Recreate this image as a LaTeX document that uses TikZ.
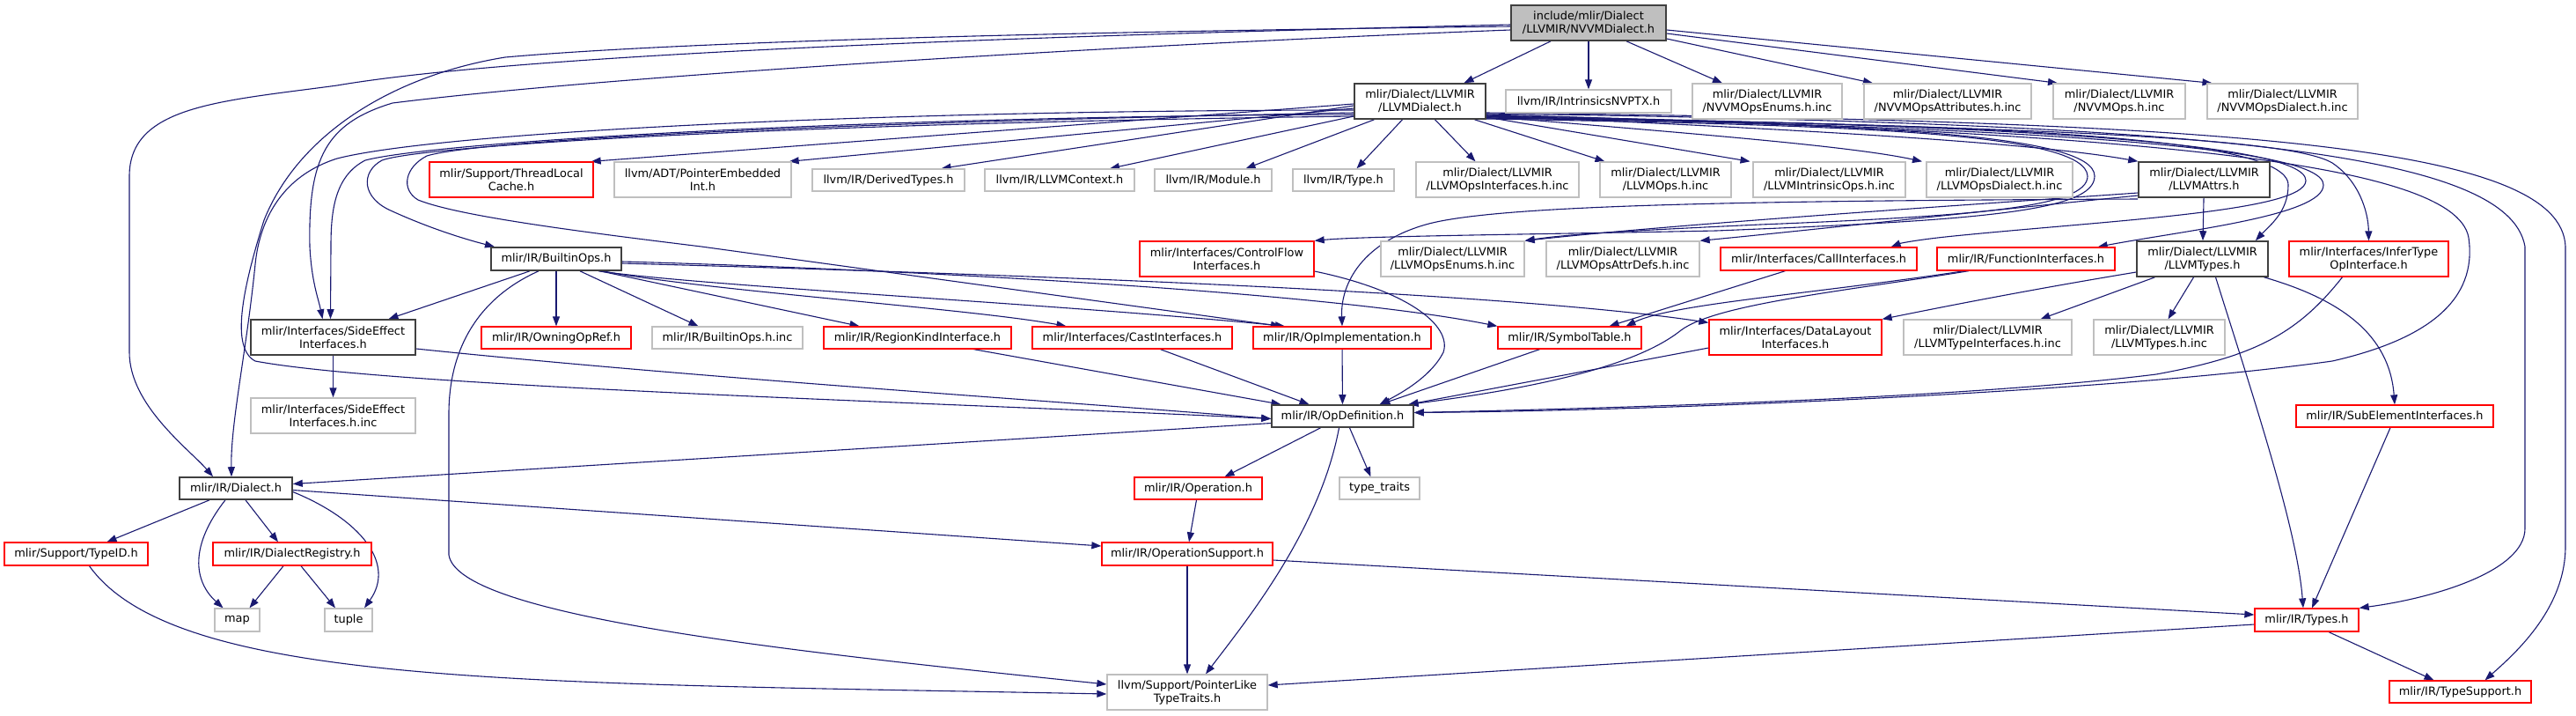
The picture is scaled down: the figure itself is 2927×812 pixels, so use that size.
\documentclass[tikz,border=0pt]{standalone}
\usepackage{fontspec}
\setmainfont{DejaVu Sans}
\usetikzlibrary{arrows.meta,backgrounds}
\definecolor{edgec}{HTML}{191970}
\definecolor{grayb}{HTML}{BFBFBF}
\definecolor{redb}{HTML}{FF0000}
\definecolor{blkb}{HTML}{404040}
\tikzset{
 box/.style={rectangle, inner sep=0pt, align=center, font=\fontsize{12.9}{15}\selectfont, line width=1.3pt, fill=white},
 ext/.style={box, draw=grayb},
 undoc/.style={box, draw=redb},
 doc/.style={box, draw=blkb, line width=1.6pt},
 root/.style={box, draw=blkb, fill=grayb, line width=1.6pt},
 edge/.style={draw=edgec, line width=1.1pt, -{Triangle[length=11pt,width=8pt]}},
}
\newcommand\nd[7]{\node[#1,minimum width={#4-#3},minimum height={#6-#5}] (#2) at ({(#3+#4)/2},{(#5+#6)/2}) {#7};}
\begin{document}
\begin{tikzpicture}[x=1pt,y=-1pt]
\useasboundingbox (0,0) rectangle (2927,812);
\nd{root}{nvvm}{1717}{1893}{6}{46}{include/mlir/Dialect\\/LLVMIR/NVVMDialect.h}
\nd{doc}{llvmd}{1539}{1688}{95}{135}{mlir/Dialect/LLVMIR\\/LLVMDialect.h}
\nd{ext}{intr}{1711}{1899}{102}{128}{llvm/IR/IntrinsicsNVPTX.h}
\nd{ext}{nenums}{1923}{2093}{95}{135}{mlir/Dialect/LLVMIR\\/NVVMOpsEnums.h.inc}
\nd{ext}{nattr}{2118}{2308}{95}{135}{mlir/Dialect/LLVMIR\\/NVVMOpsAttributes.h.inc}
\nd{ext}{nops}{2333}{2483}{95}{135}{mlir/Dialect/LLVMIR\\/NVVMOps.h.inc}
\nd{ext}{ndial}{2508}{2679}{95}{135}{mlir/Dialect/LLVMIR\\/NVVMOpsDialect.h.inc}
\nd{undoc}{tlc}{488}{674}{184}{224}{mlir/Support/ThreadLocal\\Cache.h}
\nd{ext}{pei}{698}{899}{184}{224}{llvm/ADT/PointerEmbedded\\Int.h}
\nd{ext}{dt}{923}{1096}{192}{217}{llvm/IR/DerivedTypes.h}
\nd{ext}{ctx}{1119}{1289}{192}{217}{llvm/IR/LLVMContext.h}
\nd{ext}{mod}{1312}{1445}{192}{217}{llvm/IR/Module.h}
\nd{ext}{typ}{1469}{1584}{192}{217}{llvm/IR/Type.h}
\nd{ext}{opsif}{1609}{1794}{184}{224}{mlir/Dialect/LLVMIR\\/LLVMOpsInterfaces.h.inc}
\nd{ext}{opsinc}{1818}{1967}{184}{224}{mlir/Dialect/LLVMIR\\/LLVMOps.h.inc}
\nd{ext}{introps}{1992}{2165}{184}{224}{mlir/Dialect/LLVMIR\\/LLVMIntrinsicOps.h.inc}
\nd{ext}{opsdial}{2189}{2355}{184}{224}{mlir/Dialect/LLVMIR\\/LLVMOpsDialect.h.inc}
\nd{doc}{attrs}{2430}{2579}{184}{224}{mlir/Dialect/LLVMIR\\/LLVMAttrs.h}
\nd{doc}{bops}{558}{706}{281}{307}{mlir/IR/BuiltinOps.h}
\nd{undoc}{cf}{1295}{1493}{274}{314}{mlir/Interfaces/ControlFlow\\Interfaces.h}
\nd{ext}{openums}{1569}{1732}{274}{314}{mlir/Dialect/LLVMIR\\/LLVMOpsEnums.h.inc}
\nd{ext}{attrdefs}{1757}{1931}{274}{314}{mlir/Dialect/LLVMIR\\/LLVMOpsAttrDefs.h.inc}
\nd{undoc}{call}{1955}{2178}{281}{307}{mlir/Interfaces/CallInterfaces.h}
\nd{undoc}{func}{2201}{2403}{281}{307}{mlir/IR/FunctionInterfaces.h}
\nd{doc}{ltypes}{2428}{2577}{274}{314}{mlir/Dialect/LLVMIR\\/LLVMTypes.h}
\nd{undoc}{infer}{2601}{2782}{274}{314}{mlir/Interfaces/InferType\\OpInterface.h}
\nd{doc}{sei}{285}{472}{363}{403}{mlir/Interfaces/SideEffect\\Interfaces.h}
\nd{undoc}{oor}{547}{717}{371}{396}{mlir/IR/OwningOpRef.h}
\nd{ext}{boinc}{741}{912}{371}{396}{mlir/IR/BuiltinOps.h.inc}
\nd{undoc}{rki}{936}{1149}{371}{396}{mlir/IR/RegionKindInterface.h}
\nd{undoc}{cast}{1173}{1400}{371}{396}{mlir/Interfaces/CastInterfaces.h}
\nd{undoc}{opimpl}{1424}{1626}{371}{396}{mlir/IR/OpImplementation.h}
\nd{undoc}{sym}{1702}{1865}{371}{396}{mlir/IR/SymbolTable.h}
\nd{undoc}{dl}{1942}{2138}{363}{403}{mlir/Interfaces/DataLayout\\Interfaces.h}
\nd{ext}{ltif}{2163}{2354}{363}{403}{mlir/Dialect/LLVMIR\\/LLVMTypeInterfaces.h.inc}
\nd{ext}{ltinc}{2379}{2528}{363}{403}{mlir/Dialect/LLVMIR\\/LLVMTypes.h.inc}
\nd{ext}{seiinc}{285}{472}{452}{492}{mlir/Interfaces/SideEffect\\Interfaces.h.inc}
\nd{doc}{opdef}{1445}{1606}{460}{485}{mlir/IR/OpDefinition.h}
\nd{undoc}{sub}{2609}{2833}{460}{485}{mlir/IR/SubElementInterfaces.h}
\nd{doc}{dialect}{204}{332}{542}{567}{mlir/IR/Dialect.h}
\nd{undoc}{oper}{1289}{1434}{542}{567}{mlir/IR/Operation.h}
\nd{ext}{tt}{1522}{1613}{542}{567}{type\_traits}
\nd{undoc}{typeid}{5}{168}{616}{642}{mlir/Support/TypeID.h}
\nd{undoc}{dreg}{242}{422}{616}{642}{mlir/IR/DialectRegistry.h}
\nd{undoc}{opsup}{1252}{1446}{616}{642}{mlir/IR/OperationSupport.h}
\nd{ext}{map}{244}{295}{691}{717}{map}
\nd{ext}{tuple}{369}{423}{691}{717}{tuple}
\nd{undoc}{types}{2562}{2680}{691}{717}{mlir/IR/Types.h}
\nd{ext}{plt}{1258}{1440}{766}{806}{llvm/Support/PointerLike\\TypeTraits.h}
\nd{undoc}{tsup}{2715}{2876}{773}{798}{mlir/IR/TypeSupport.h}
\begin{scope}[on background layer]
% NVVMDialect.h
\draw[edge] ([xshift=-43pt]nvvm.south) -- ([xshift=50pt]llvmd.north);
\draw[edge] (nvvm) -- (intr);
\draw[edge] ([xshift=43pt]nvvm.south) -- ([xshift=-51pt]nenums.north);
\draw[edge] ([yshift=-18pt]nvvm.east) -- ([xshift=-85pt]nattr.north);
\draw[edge] ([yshift=-12pt]nvvm.east) -- ([xshift=-70pt]nops.north);
\draw[edge] ([yshift=-8pt]nvvm.east) -- ([xshift=-80pt]ndial.north);
\draw[edge] ([yshift=-2pt]nvvm.west) .. controls (1200,40) and (600,60) .. (383,97) .. controls (250,115) and (147,120) .. (147,200) -- (147,400) .. controls (147,460) and (215,510) .. ([xshift=-26pt]dialect.north);
\draw[edge] ([yshift=-4pt]nvvm.west) .. controls (1300,35) and (800,45) .. (574,65) .. controls (450,85) and (340,150) .. (300,250) .. controls (275,330) and (262,395) .. (290,410) .. controls (450,440) and (1100,458) .. ([yshift=-3pt]opdef.west);
\draw[edge] ([yshift=-8pt]nvvm.west) .. controls (1300,50) and (700,85) .. (446,117) .. controls (370,140) and (350,180) .. (352,280) .. controls (354,320) and (362,340) .. ([xshift=-12pt]sei.north);
% LLVMDialect.h
\draw[edge] ([yshift=-10pt]llvmd.west) .. controls (1000,125) and (500,150) .. (383,180) .. controls (320,200) and (295,250) .. (290,300) .. controls (280,400) and (262,480) .. ([xshift=-5pt]dialect.north);
\draw[edge] ([yshift=-15pt]llvmd.west) .. controls (1000,132) and (500,160) .. (415,182) .. controls (380,200) and (376,240) .. (376,280) -- ([xshift=-3pt]sei.north);
\draw[edge] ([yshift=-17pt]llvmd.west) .. controls (900,140) and (480,165) .. (434,182) .. controls (410,195) and (410,225) .. (446,240) .. controls (490,260) and (530,272) .. ([xshift=-70pt]bops.north);
\draw[edge] ([yshift=-13pt]llvmd.west) .. controls (900,140) and (540,160) .. (485,177) .. controls (460,190) and (455,215) .. (475,227) .. controls (520,245) and (650,262) .. (797,280) -- ([xshift=-70pt]opimpl.north);
\draw[edge] ([yshift=-3pt]llvmd.west) -- ([xshift=-3pt]tlc.north east);
\draw[edge] ([yshift=-8pt]llvmd.west) -- ([xshift=-3pt]pei.north east);
\draw[edge] ([yshift=-5pt]llvmd.west) -- ([xshift=60pt]dt.north);
\draw[edge] ([yshift=-17pt]llvmd.west) -- ([xshift=57pt]ctx.north);
\draw[edge] ([xshift=-52pt]llvmd.south) -- ([xshift=37pt]mod.north);
\draw[edge] ([xshift=-20pt]llvmd.south) -- ([xshift=15pt]typ.north);
\draw[edge] ([xshift=17pt]llvmd.south) -- ([xshift=-25pt]opsif.north);
\draw[edge] ([xshift=62pt]llvmd.south) -- ([xshift=-69pt]opsinc.north);
\draw[edge] ([yshift=-18pt]llvmd.east) -- ([xshift=-90pt]introps.north);
\draw[edge] ([yshift=-17pt]llvmd.east) .. controls (1900,150) and (2100,165) .. ([xshift=-88pt]opsdial.north);
\draw[edge] ([yshift=-16pt]llvmd.east) .. controls (2000,145) and (2300,160) .. (attrs.north west);
\draw[edge] ([yshift=-19pt]llvmd.east) .. controls (2100,140) and (2380,150) .. (2380,200) .. controls (2380,240) and (2250,250) .. (1950,262) .. controls (1750,266) and (1550,268) .. (cf.north east);
\draw[edge] ([yshift=-20pt]llvmd.east) .. controls (2100,142) and (2370,150) .. (2372,200) .. controls (2372,235) and (2250,245) .. (2000,255) .. controls (1850,262) and (1780,266) .. (openums.north east);
\draw[edge] ([yshift=-19pt]llvmd.east) .. controls (2200,140) and (2600,150) .. (2600,210) .. controls (2600,240) and (2580,255) .. ([xshift=-15pt]ltypes.north east);
\draw[edge] ([yshift=-18pt]llvmd.east) .. controls (2250,140) and (2620,160) .. (2620,205) .. controls (2620,240) and (2400,250) .. (2220,268) .. controls (2180,272) and (2160,276) .. ([xshift=-30pt]call.north east);
\draw[edge] ([yshift=-17pt]llvmd.east) .. controls (2300,145) and (2640,165) .. (2640,210) .. controls (2640,245) and (2480,262) .. ([xshift=-20pt]func.north east);
\draw[edge] ([yshift=-16pt]llvmd.east) .. controls (2300,145) and (2600,155) .. (2650,185) .. controls (2680,205) and (2691,240) .. (infer.north);
\draw[edge] ([yshift=-15pt]llvmd.east) .. controls (2400,150) and (2790,180) .. (2805,270) .. controls (2815,340) and (2760,385) .. (2650,410) .. controls (2400,445) and (1900,466) .. ([yshift=4pt]opdef.east);
\draw[edge] ([yshift=-14pt]llvmd.east) .. controls (2500,140) and (2850,170) .. (2869,280) -- (2869,600) .. controls (2869,650) and (2760,680) .. (types.north east);
\draw[edge] ([yshift=-13pt]llvmd.east) .. controls (2550,138) and (2910,165) .. (2915,280) -- (2915,620) .. controls (2915,690) and (2860,740) .. ([xshift=28pt]tsup.north);
% LLVMAttrs.h
\draw[edge] ([yshift=-15pt]attrs.west) .. controls (2200,235) and (1900,255) .. (openums.north east);
\draw[edge] ([yshift=-18pt]attrs.west) .. controls (2250,240) and (2050,262) .. (attrdefs.north east);
\draw[edge] ([yshift=-22pt]attrs.west) .. controls (2000,228) and (1700,232) .. (1620,255) .. controls (1550,275) and (1523,320) .. (opimpl.north);
\draw[edge] (attrs) -- (ltypes);
% BuiltinOps.h
\draw[edge] ([xshift=-30pt]bops.south) -- ([xshift=63pt]sei.north);
\draw[edge] (bops) -- (oor);
\draw[edge] ([xshift=27pt]bops.south) -- ([xshift=-33pt]boinc.north);
\draw[edge] ([xshift=50pt]bops.south) -- ([xshift=-66pt]rki.north);
\draw[edge] ([xshift=53pt]bops.south) .. controls (800,330) and (1100,350) .. ([xshift=-75pt]cast.north);
\draw[edge] ([xshift=48pt]bops.south) .. controls (800,325) and (1200,345) .. ([xshift=-65pt]opimpl.north);
\draw[edge] ([yshift=-3pt]bops.east) .. controls (1000,305) and (1500,330) .. (sym.north west);
\draw[edge] ([yshift=-5pt]bops.east) .. controls (1100,310) and (1700,330) .. ([yshift=-4pt]dl.north west);
\draw[edge] ([xshift=-20pt]bops.south) .. controls (540,340) and (510,400) .. (510,470) -- (510,630) .. controls (520,700) and (900,740) .. ([yshift=9pt]plt.west);
% SideEffectInterfaces.h
\draw[edge] (sei) -- (seiinc);
\draw[edge] ([yshift=-13pt]sei.east) .. controls (800,430) and (1200,455) .. ([yshift=-3pt]opdef.west);
% into OpDefinition.h
\draw[edge] ([xshift=64pt]rki.south) -- ([xshift=-70pt]opdef.north);
\draw[edge] ([xshift=32pt]cast.south) -- ([xshift=-38pt]opdef.north);
\draw[edge] (opimpl) -- (opdef);
\draw[edge] ([xshift=-34pt]sym.south) -- ([xshift=43pt]opdef.north);
\draw[edge] ([yshift=-14pt]cf.east) .. controls (1600,330) and (1650,370) .. (1640,400) .. controls (1625,430) and (1585,450) .. ([xshift=42pt]opdef.north);
\draw[edge] ([yshift=-12pt]dl.west) -- ([xshift=75pt]opdef.north);
\draw[edge] ([xshift=-65pt]func.south) .. controls (2100,330) and (1950,345) .. (1910,375) .. controls (1860,415) and (1750,440) .. ([xshift=75pt]opdef.north);
\draw[edge] ([xshift=-30pt]infer.south) .. controls (2610,380) and (2560,405) .. (2450,425) .. controls (2250,450) and (1900,462) .. ([yshift=4pt]opdef.east);
% into SymbolTable.h
\draw[edge] ([xshift=-70pt]func.south) .. controls (2050,335) and (1900,345) .. ([xshift=64pt]sym.north);
\draw[edge] ([xshift=-38pt]call.south) -- ([xshift=45pt]sym.north);
% LLVMTypes.h
\draw[edge] ([yshift=-15pt]ltypes.west) .. controls (2300,330) and (2200,350) .. (dl.north east);
\draw[edge] ([xshift=-54pt]ltypes.south) -- ([xshift=60pt]ltif.north);
\draw[edge] ([xshift=-10pt]ltypes.south) -- ([xshift=10pt]ltinc.north);
\draw[edge] ([xshift=70pt]ltypes.south) .. controls (2660,340) and (2715,380) .. (sub.north);
\draw[edge] ([xshift=15pt]ltypes.south) .. controls (2560,450) and (2610,600) .. ([xshift=-4pt]types.north);
\draw[edge] ([xshift=-5pt]sub.south) -- ([xshift=6pt]types.north);
% OpDefinition.h
\draw[edge] ([yshift=-8pt]opdef.west) -- ([yshift=5pt]dialect.east);
\draw[edge] ([xshift=-25pt]opdef.south) -- ([xshift=30pt]oper.north);
\draw[edge] ([xshift=8pt]opdef.south) -- ([xshift=-10pt]tt.north);
\draw[edge] ([xshift=-4pt]opdef.south) .. controls (1500,600) and (1420,700) .. ([xshift=21pt]plt.north);
% Dialect.h
\draw[edge] ([xshift=-30pt]dialect.south) -- ([xshift=35pt]typeid.north);
\draw[edge] ([xshift=-12pt]dialect.south) .. controls (215,620) and (220,660) .. ([xshift=-16pt]map.north);
\draw[edge] ([xshift=11pt]dialect.south) -- ([xshift=-16pt]dreg.north);
\draw[edge] ([yshift=-4pt]dialect.east) .. controls (410,590) and (450,640) .. ([xshift=18pt]tuple.north);
\draw[edge] ([yshift=-2pt]dialect.east) -- ([yshift=9pt]opsup.west);
\draw[edge] ([xshift=-10pt]dreg.south) -- ([xshift=14pt]map.north);
\draw[edge] ([xshift=10pt]dreg.south) -- ([xshift=-15pt]tuple.north);
\draw[edge] ([xshift=15pt]typeid.south) .. controls (200,780) and (600,775) .. ([yshift=-2pt]plt.west);
% Operation / OperationSupport / Types
\draw[edge] ([xshift=-2pt]oper.south) -- ([xshift=2pt]opsup.north);
\draw[edge] (opsup) -- (plt);
\draw[edge] ([yshift=-7pt]opsup.east) -- ([yshift=6pt]types.west);
\draw[edge] ([yshift=-5pt]types.west) -- ([yshift=8pt]plt.east);
\draw[edge] ([xshift=25pt]types.south) -- ([xshift=-30pt]tsup.north);
\end{scope}
\end{tikzpicture}
\end{document}
